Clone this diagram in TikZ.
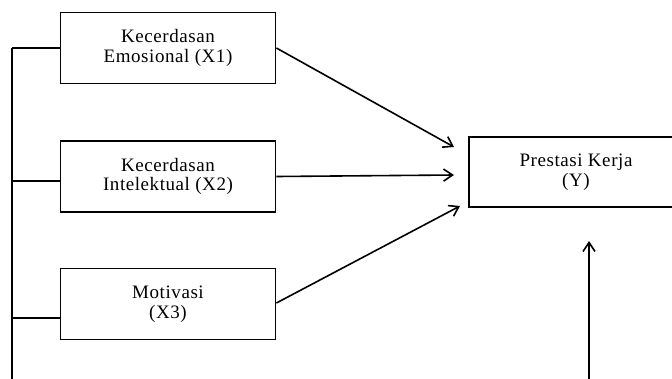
\documentclass[tikz,border=0pt]{standalone}
\usepackage{fontspec}
\setmainfont{Liberation Serif}[LetterSpace=3]
\usetikzlibrary{arrows.meta}

\tikzset{
  varbox/.style={draw, line width=1.8pt, minimum width=215pt, minimum height=71pt,
    align=center, inner sep=0pt, font=\fontsize{19}{19.5}\selectfont},
  link/.style={line width=1.6pt, -{Straight Barb[length=9pt,width=12pt,line width=1.6pt]}},
  bus/.style={line width=1.8pt}
}

\begin{document}
\begin{tikzpicture}[x=1pt,y=-1pt]
    \useasboundingbox (0,0) rectangle (672,378);
    \clip (0,0) rectangle (672,378);
    % variables
    \node[varbox] (x1) at (168,48) {Kecerdasan\\Emosional (X1)};
    \node[varbox] (x2) at (168,176.5) {Kecerdasan\\Intelektual (X2)};
    \node[varbox] (x3) at (168,304) {Motivasi\\(X3)};
    \node[varbox, minimum width=214pt, minimum height=70pt] (y) at (576,172) {Prestasi Kerja\\(Y)};
    % arrow ends
    \coordinate (in1) at (454,147);
    \coordinate (in2) at (454,175);
    \coordinate (in3) at (460,206);
    \coordinate (in4) at (589,241);
    \coordinate (out4) at (589,390);
    \draw[link] (x1.east) -- (in1);
    \draw[link] (x2.east) -- (in2);
    \draw[link] ([yshift=1pt]x3.east) -- (in3);
    \draw[link] (out4) -- (in4);
    % bracket on the left
    \coordinate (b1) at (12,48);
    \coordinate (b2) at (12,181);
    \coordinate (b3) at (12,318);
    \coordinate (b4) at (12,390);
    \draw[bus] (b1) -- (b4);
    \draw[bus] (b1) -- (b1 -| x1.west);
    \draw[bus] (b2) -- (b2 -| x2.west);
    \draw[bus] (b3) -- (b3 -| x3.west);
\end{tikzpicture}
\end{document}
